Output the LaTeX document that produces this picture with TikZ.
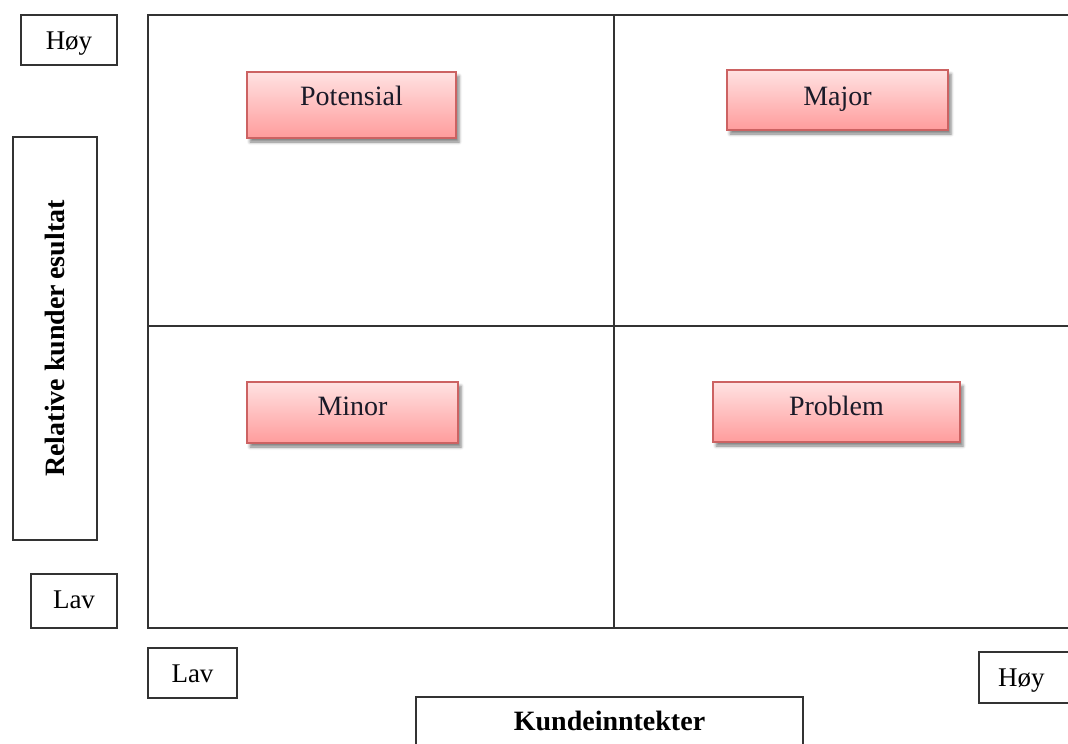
\documentclass[tikz,border=0pt]{standalone}
\usepackage{fontspec}
\setmainfont{Liberation Serif}
\usetikzlibrary{shadows.blur}
\definecolor{framegray}{HTML}{333333}
\definecolor{pinktop}{HTML}{FFE2E2}
\definecolor{pinkbot}{HTML}{FF9C9C}
\definecolor{pinkedge}{HTML}{CC6262}
\definecolor{inktext}{HTML}{1A1A28}
\begin{document}
\begin{tikzpicture}[x=1pt,y=-1pt,
  every node/.style={inner sep=0pt, outer sep=0pt},
  lbl/.style={draw=framegray, line width=1.8pt, fill=white, anchor=north west,
    font=\fontsize{27}{30}\selectfont, text height=34pt},
  axislbl/.style={lbl, font=\fontsize{28}{32}\selectfont\bfseries},
  quad/.style={draw=pinkedge, line width=1.6pt, anchor=north west,
    top color=pinktop, bottom color=pinkbot,
    text=inktext, font=\fontsize{28}{32}\selectfont,
    blur shadow={shadow xshift=3pt, shadow yshift=-4pt,
      shadow blur radius=3pt, shadow opacity=50}},
  gridline/.style={draw=framegray, line width=1.8pt}]
\useasboundingbox (0,0) rectangle (1068,744);
\clip (0,0) rectangle (1068,744);

% frame of the matrix
\coordinate (tl) at (148,15);
\coordinate (tr) at (1085,15);
\coordinate (bl) at (148,628);
\coordinate (br) at (1085,628);
\coordinate (mt) at (614,15);
\coordinate (mb) at (614,628);
\coordinate (ml) at (148,326);
\coordinate (mr) at (1085,326);
\draw[gridline] (tr) -- (tl) -- (bl) -- (br);
\draw[gridline] (mt) -- (mb);
\draw[gridline] (ml) -- (mr);

% quadrant labels
\node[quad, minimum width=209pt, text height=33pt, text depth=33pt] (potensial) at (247,72) {Potensial};
\node[quad, minimum width=221pt, text height=35pt, text depth=25pt] (major) at (727,70) {Major};
\node[quad, minimum width=211pt, text height=33pt, text depth=28pt] (minor) at (247,382) {Minor};
\node[quad, minimum width=247pt, text height=33pt, text depth=27pt] (problem) at (713,382) {Problem};

% axis scale labels
\node[lbl, minimum width=96pt, text depth=16pt, xshift=0pt] (yhigh) at (21,15) {Høy\hspace{8pt}};
\node[lbl, minimum width=86pt, text depth=20pt] (ylow) at (31,574) {Lav};
\node[lbl, minimum width=89pt, text depth=16pt] (xlow) at (148,648) {Lav};
\node[lbl, minimum width=100pt, text depth=17pt, align=left, text width=86pt, inner xsep=7pt] (xhigh) at (979,652) {\hspace{12pt}Høy};

% axis titles
\node[axislbl, minimum width=84pt, minimum height=403pt, text height=0pt] (ytitle) at (13,137) {};
\node[rotate=90, font=\fontsize{28}{32}\selectfont\bfseries] (ytext) at (ytitle.center) {Relative kunder\hspace{5pt}esultat};
\node[axislbl, minimum width=387pt, text height=33pt, text depth=32pt] (xtitle) at (416,697) {Kundeinntekter};
\end{tikzpicture}
\end{document}
